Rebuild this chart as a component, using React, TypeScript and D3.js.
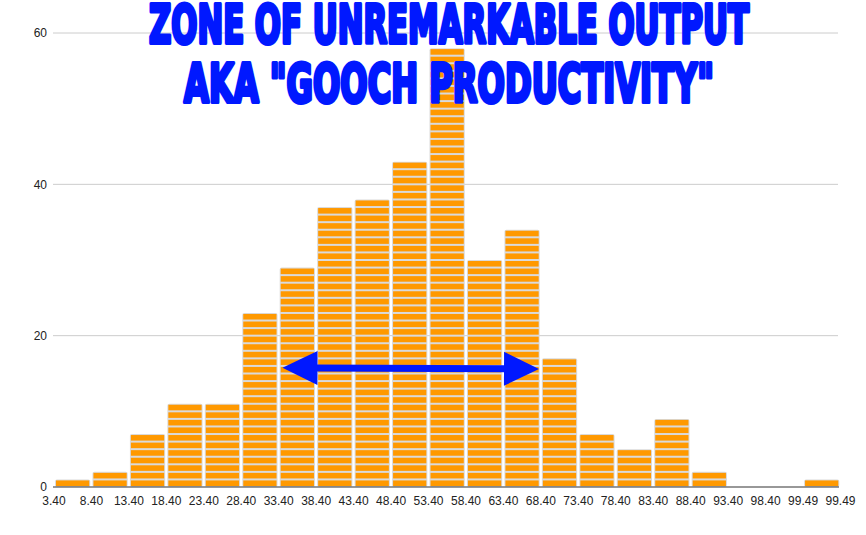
import React, { useLayoutEffect, useRef, useState } from "react";
import * as d3 from "d3";

const binEdges = ["3.40","8.40","13.40","18.40","23.40","28.40","33.40","38.40","43.40","48.40","53.40","58.40","63.40","68.40","73.40","78.40","83.40","88.40","93.40","98.40","99.49","99.49"];
const counts = [1,2,7,11,11,23,29,37,38,43,58,30,34,17,7,5,9,2,0,0,1];
const yTicks = [0,20,40,60];
const titleLines = ["ZONE OF UNREMARKABLE OUTPUT", "AKA \"GOOCH PRODUCTIVITY\""];
const titleWidths = [604, 534];
// arrow annotation in data coordinates (bin-index units, count units)
const arrowFrom = { bin: 6.1, value: 15.75 };
const arrowTo = { bin: 12.95, value: 15.6 };

const W = 866, H = 535;

function TitleLine({ text, cx, baseline, width, color }: { text: string; cx: number; baseline: number; width: number; color: string }) {
  const ref = useRef<SVGTextElement>(null);
  const [sx, setSx] = useState(0.7);
  useLayoutEffect(() => {
    if (ref.current) {
      const w = ref.current.getComputedTextLength();
      if (w > 0) setSx(width / w);
    }
  }, [text, width]);
  return (
    <g transform={`translate(${cx},${baseline}) scale(${sx},1)`}>
      <text ref={ref} x={0} y={0} textAnchor="middle"
        fontFamily="'Liberation Sans Narrow', 'DejaVu Sans Condensed', 'Liberation Sans', sans-serif"
        fontWeight="bold" fontSize={53} fill={color} stroke={color} strokeWidth={4} strokeLinejoin="round">{text}</text>
    </g>
  );
}

export default function App() {
  const x = d3.scaleLinear().domain([0, counts.length]).range([54, 840.5]);
  const y = d3.scaleLinear().domain([0, 60]).range([487, 33]);
  const unit = y(0) - y(1);
  const blue = "#0018ff";

  const ax1 = x(arrowFrom.bin), ay1 = y(arrowFrom.value);
  const ax2 = x(arrowTo.bin), ay2 = y(arrowTo.value);
  const headLen = 35, headHalf = 17;
  const ang = Math.atan2(ay2 - ay1, ax2 - ax1);
  const c = Math.cos(ang), s = Math.sin(ang);
  const head = (tx: number, ty: number, dir: number) => {
    const bx = tx - dir * headLen * c, by = ty - dir * headLen * s;
    return `M${tx},${ty} L${bx - headHalf * s},${by + headHalf * c} L${bx + headHalf * s},${by - headHalf * c} Z`;
  };

  return (
    <svg width={W} height={H} style={{ position: "absolute", left: 0, top: 0, background: "#fff" }}
      fontFamily="'Liberation Sans', Arial, sans-serif">
      {yTicks.filter(t => t > 0).map(t => (
        <line key={t} x1={53} x2={838} y1={y(t)} y2={y(t)} stroke="#cccccc" strokeWidth={1} />
      ))}
      {yTicks.map(t => (
        <text key={t} x={47} y={y(t)} dy="0.35em" textAnchor="end" fontSize={12} fill="#222">{t}</text>
      ))}
      {counts.map((v, i) => {
        if (v === 0) return null;
        const x0 = x(i) + 1, x1 = x(i + 1) - 1.2;
        return (
          <g key={i}>
            <rect x={x0} y={y(v)} width={x1 - x0} height={y(0) - y(v)} fill="#dadada" rx={2} />
            {d3.range(v).map(k => (
              <rect key={k} x={x0 + 1} y={y(k + 1) + 1} width={x1 - x0 - 2} height={unit - 2} fill="#ff9900" />
            ))}
          </g>
        );
      })}
      <line x1={53} x2={839} y1={y(0)} y2={y(0)} stroke="#333" strokeWidth={1.2} />
      {binEdges.map((l, i) => (
        <text key={i} x={x(i)} y={505} textAnchor="middle" fontSize={12} fill="#222">{l}</text>
      ))}
      <line x1={ax1 + headLen * c - 2} y1={ay1 + headLen * s} x2={ax2 - headLen * c + 2} y2={ay2 - headLen * s}
        stroke={blue} strokeWidth={7} />
      <path d={head(ax1, ay1, -1)} fill={blue} />
      <path d={head(ax2, ay2, 1)} fill={blue} />
      {titleLines.map((t, i) => (
        <TitleLine key={i} text={t} cx={449} baseline={i === 0 ? 43 : 102} width={titleWidths[i] - 4} color={blue} />
      ))}
    </svg>
  );
}
